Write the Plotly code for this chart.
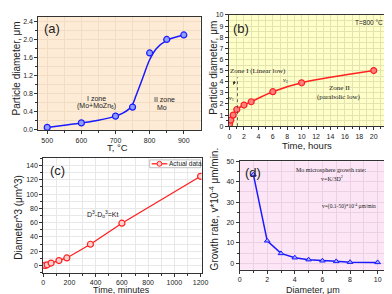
import plotly.graph_objects as go

# ---------- data ----------
# (a) particle diameter vs temperature
a_T = [500, 600, 700, 750, 800, 850, 900]
a_D = [0.05, 0.15, 0.30, 0.50, 1.70, 2.00, 2.10]
a_fitT = [500, 550, 600, 650, 700, 720, 740, 750, 760, 780, 800, 820, 850, 875, 900]
a_fitD = [0.05, 0.10, 0.15, 0.21, 0.30, 0.36, 0.46, 0.56, 0.75, 1.15, 1.55, 1.80, 1.98, 2.05, 2.10]

# (b) particle diameter vs time
b_t = [0, 0.17, 0.5, 1, 2, 3, 6, 10, 20]
b_D = [0.2, 0.55, 1.0, 1.5, 1.9, 2.2, 3.1, 3.9, 5.0]

# (c) diameter^3 vs time (minutes)
c_t = [0, 15, 30, 60, 120, 180, 360, 600, 1200]
c_D3 = [0.0, 0.2, 1.0, 3.4, 6.9, 10.6, 29.8, 59.3, 125.0]

# (d) growth rate vs diameter
d_D = [1, 2, 3, 4, 5, 6, 7, 8, 10]
d_v = [43.5, 11.0, 4.8, 2.7, 1.75, 1.2, 0.9, 0.5, 0.4]

# ---------- figure ----------
W, H = 392, 294
def dx(a, b):
    return [a / W, b / W]
def dy(top, bot):
    return [1 - bot / H, 1 - top / H]
def px(x):
    return x / W
def py(y):
    return 1 - y / H

FONT = "Liberation Sans"
SERIF = "Liberation Serif"
TXT = "#222222"
fig = go.Figure()

fig.add_trace(go.Scatter(x=a_fitT, y=a_fitD, mode="lines", line=dict(color="#1a1aff", width=1.5, shape="spline"),
                         xaxis="x", yaxis="y", showlegend=False))
fig.add_trace(go.Scatter(x=a_T, y=a_D, mode="markers",
                         marker=dict(symbol="circle", size=6, color="#8f9fff", line=dict(color="#1a1aff", width=1.2)),
                         xaxis="x", yaxis="y", showlegend=False))

fig.add_trace(go.Scatter(x=b_t, y=b_D, mode="lines+markers", line=dict(color="#ff2020", width=1.5, shape="spline"),
                         marker=dict(symbol="circle", size=6, color="#ff8080", line=dict(color="#ff2020", width=1.2)),
                         xaxis="x2", yaxis="y2", showlegend=False))

fig.add_trace(go.Scatter(x=c_t, y=c_D3, mode="lines+markers", name="Actual data",
                         line=dict(color="#ff2020", width=1.3),
                         marker=dict(symbol="circle", size=6, color="#ffd0d0", line=dict(color="#ff2020", width=1.2)),
                         xaxis="x3", yaxis="y3", showlegend=False))

fig.add_trace(go.Scatter(x=d_D, y=d_v, mode="lines+markers", line=dict(color="#1a1aff", width=1.5),
                         marker=dict(symbol="triangle-up", size=5, color="#a0a8ff", line=dict(color="#1a1aff", width=1)),
                         xaxis="x4", yaxis="y4", showlegend=False))

def ax(domain, rng, dtick, minor_dtick, anchor, gridcolor="#e6e6e6", tfs=7):
    return dict(domain=domain, range=rng, dtick=dtick, tick0=0, anchor=anchor,
                showline=True, linecolor="#333333", linewidth=1, mirror=True,
                ticks="outside", ticklen=3, tickcolor="#333333", tickwidth=1,
                minor=dict(dtick=minor_dtick, ticks="outside", ticklen=2, tickcolor="#333333", showgrid=True, gridcolor=gridcolor, gridwidth=0.5),
                showgrid=True, gridcolor=gridcolor, gridwidth=0.5, zeroline=False,
                tickfont=dict(family=FONT, size=tfs, color=TXT))

layout = dict(width=W, height=H, margin=dict(l=0, r=0, t=0, b=0), paper_bgcolor="white", plot_bgcolor="rgba(0,0,0,0)",
              showlegend=False)
layout["xaxis"] = ax(dx(29, 195), [474, 949], 100, 50, "y", gridcolor="#f2dcc4")
layout["yaxis"] = ax(dy(5, 121), [-0.01, 2.5], 0.4, 0.2, "x", gridcolor="#f2dcc4")
layout["yaxis"]["tickformat"] = ".1f"
layout["xaxis2"] = ax(dx(224, 387), [-0.1, 22], 2, 1, "y2", gridcolor="#e4e4b0")
layout["yaxis2"] = ax(dy(3, 117), [0, 10], 1, 0.5, "x2", gridcolor="#e4e4b0")
layout["xaxis3"] = ax(dx(34, 196), [0, 1207], 200, 100, "y3", gridcolor="#e8e8e8")
layout["yaxis3"] = ax(dy(150, 267), [-10, 150], 20, 10, "x3", gridcolor="#e8e8e8")
layout["xaxis4"] = ax(dx(235, 389), [0, 10.9], 2, 1, "y4", gridcolor="#ecd0e6")
layout["yaxis4"] = ax(dy(153, 264), [-3.2, 50], 10, 5, "x4", gridcolor="#ecd0e6")
fig.update_layout(**layout)

# backgrounds
bgs = [("x", "y", "#fdebd6"), ("x2", "y2", "#ffffc9"), ("x4", "y4", "#fce6f6")]
for xr, yr, col in bgs:
    fig.add_shape(type="rect", xref=xr + " domain", yref=yr + " domain", x0=0, x1=1, y0=0, y1=1,
                  fillcolor=col, line=dict(width=0), layer="below")

def txt(x, y, s, xref, yref, size=7, family=FONT, xanchor="center", color=TXT, angle=0):
    fig.add_annotation(x=x, y=y, text=s, xref=xref, yref=yref, showarrow=False, xanchor=xanchor,
                       yanchor="middle", textangle=angle, borderpad=0,
                       font=dict(family=family, size=size, color=color))

# axis titles
txt(px(110), py(139), "T, °C", "paper", "paper", size=9.5)
txt(px(7), py(58), "Particle diameter, μm", "paper", "paper", size=10, angle=-90)
txt(px(304), py(137), "Time, hours", "paper", "paper", size=9.5)
txt(px(208), py(57), "Particle diameter, μm", "paper", "paper", size=10, angle=-90)
txt(px(114), py(285), "Time, minutes", "paper", "paper", size=9)
txt(px(8), py(210), "Diameter^3 (μm^3)", "paper", "paper", size=10, angle=-90)
txt(px(310), py(285), "Diameter, μm", "paper", "paper", size=9)
txt(px(209), py(202), "Growth rate, v*10<sup>-4</sup> μm/min.", "paper", "paper", size=10, angle=-90)

# (a)
txt(px(34), py(17), "(a)", "paper", "paper", size=13, xanchor="left")
txt(643, 0.68, "I zone", "x", "y")
txt(643, 0.52, "(Mo+MoZn<sub>6</sub>)", "x", "y")
txt(843, 0.66, "II zone", "x", "y")
txt(836, 0.49, "Mo", "x", "y")

# (b)
txt(px(227), py(17), "(b)", "paper", "paper", size=13, xanchor="left")
txt(19.3, 9.3, "T=800 °C", "x2", "y2", size=6.5)
txt(3.9, 5.0, "Zone I (Linear low)", "x2", "y2", size=7, family=SERIF)
txt(15.2, 3.4, "Zone II", "x2", "y2", size=7, family=SERIF)
txt(15.2, 2.65, "(parabolic low)", "x2", "y2", size=7, family=SERIF)
txt(0.3, 2.5, "<i>v</i><sub>1</sub>", "x2", "y2", size=6, family=SERIF)
txt(7.8, 4.15, "<i>v</i><sub>2</sub>", "x2", "y2", size=6, family=SERIF)
fig.add_shape(type="line", xref="x2", yref="y2", x0=1.1, x1=1.1, y0=0, y1=4.4,
              line=dict(color="#444444", width=0.8, dash="dot"))
fig.add_annotation(x=0.55, y=3.7, ax=0.75, ay=4.2, xref="x2", yref="y2", axref="x2", ayref="y2",
                   showarrow=True, arrowhead=2, arrowsize=0.8, arrowwidth=0.8, arrowcolor="#333333", text="")

# (c)
txt(px(40), py(162), "(c)", "paper", "paper", size=13, xanchor="left")
txt(455, 72, "D<sup>3</sup>-D<sub>o</sub><sup>3</sup>=Kt", "x3", "y3", size=7)
# legend drawn by hand (compact Origin-style box)
fig.add_shape(type="rect", xref="paper", yref="paper", x0=px(143), x1=px(195), y0=py(159.5), y1=py(151.5),
              fillcolor="white", line=dict(color="#999999", width=0.6), layer="above")
fig.add_shape(type="line", xref="paper", yref="paper", x0=px(145), x1=px(161), y0=py(155.5), y1=py(155.5),
              line=dict(color="#ff2020", width=1.3), layer="above")
fig.add_shape(type="circle", xref="paper", yref="paper", x0=px(150.5), x1=px(155.5), y0=py(158), y1=py(153),
              fillcolor="#ffd0d0", line=dict(color="#ff2020", width=1), layer="above")
txt(px(162), py(155.5), "Actual data", "paper", "paper", size=6.5, xanchor="left")

# (d)
txt(px(240), py(164), "(d)", "paper", "paper", size=13, xanchor="left")
txt(6.6, 45.7, "Mo microsphere growth rate:", "x4", "y4", size=6, family=SERIF)
txt(6.7, 41.6, "v=K/3D<sup>2</sup>", "x4", "y4", size=6, family=SERIF)
txt(7.9, 27.9, "v=(0.1-50)*10<sup>-4</sup> μm/min", "x4", "y4", size=5.5, family=SERIF)

fig.write_html("out.html")
